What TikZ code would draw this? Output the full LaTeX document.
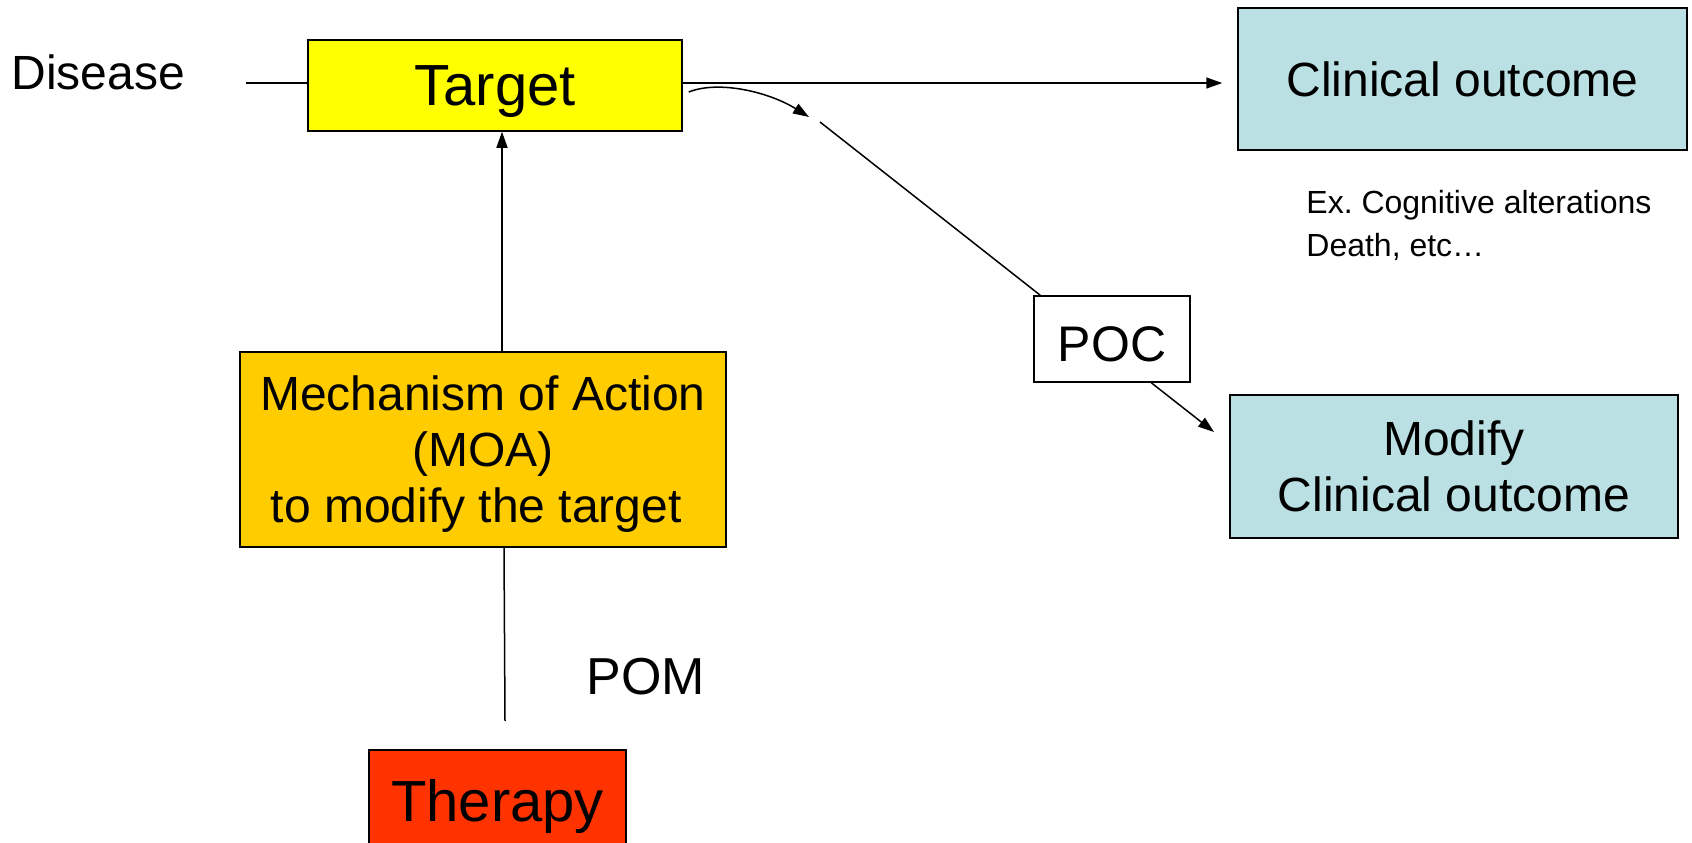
\documentclass[tikz,border=0pt]{standalone}
\usepackage{fontspec}
\setmainfont{Liberation Sans}
\usetikzlibrary{arrows.meta,calc}
\definecolor{tgtyellow}{HTML}{FFFF00}
\definecolor{outblue}{HTML}{BAE0E3}
\definecolor{moaorange}{HTML}{FFCC00}
\definecolor{therred}{HTML}{FF3300}
\tikzset{
  box/.style={draw=black, line width=0.75pt, inner sep=0pt, align=center, anchor=center},
  conn/.style={line width=0.75pt, draw=black},
  arr/.style={conn, -{Triangle[length=8pt,width=5.5pt]}},
  big/.style={font=\fontsize{24}{28}\selectfont},
}
\begin{document}
\frenchspacing
\begin{tikzpicture}[x=0.5pt,y=-0.5pt]
\useasboundingbox (0,0) rectangle (1692,842);

% nodes
\node[box, fill=tgtyellow, minimum width=187pt, minimum height=45.5pt, text depth=0pt, font=\fontsize{29}{32}\selectfont] (target) at (495,85.5) {Target};
\node[box, fill=outblue, minimum width=224.5pt, minimum height=71pt, big] (clin) at (1462.5,79) {Clinical outcome};
\node[box, fill=white, minimum width=78pt, minimum height=43pt, font=\fontsize{25}{28}\selectfont] (poc) at (1112,339) {\raisebox{0pt}[0pt][0pt]{\raisebox{-2.5pt}{POC}}\vphantom{P}};
\node[box, fill=outblue, minimum width=224pt, minimum height=71.5pt, big] (modify) at (1454,466.5) {Modify\\Clinical outcome};
\node[box, fill=moaorange, minimum width=243pt, minimum height=97.5pt, text depth=0pt, big] (moa) at (483,449.5) {Mechanism of Action\\(MOA)\\to modify the target\hspace*{0.28em}};
\node[box, fill=therred, minimum width=128.5pt, minimum height=50pt, text depth=0pt, font=\fontsize{29}{32}\selectfont] (therapy) at (497.5,800) {Therapy};

% free texts
\node[inner sep=0pt, anchor=base west, big] (disease) at (11,89) {Disease};
\node[inner sep=0pt, anchor=base west, font=\fontsize{26}{28}\selectfont] (pom) at (586,694) {POM};
\node[inner sep=0pt, anchor=north west, align=left, font=\fontsize{16}{21.5}\selectfont] (ex) at (1306,190) {Ex. Cognitive alterations\\Death, etc…};

% coordinates
\coordinate (dstart) at (246,83);
\coordinate (curveend) at (809,117);
\coordinate (linestart) at (820,122);
\coordinate (modtip) at (1214,432);
\coordinate (pomend) at (505,721);

% connectors
\draw[conn] (dstart) -- (dstart -| target.west);
\draw[arr] (target.east |- dstart) -- ($(clin.west |- dstart)+(-15,0)$);
\draw[arr] ($(target.east)+(6,6.5)$) .. controls +(30,-12) and +(-40,-25) .. (curveend);
\draw[conn] (linestart) -- ($(poc.north west)+(7,0)$);
\draw[arr] ($(poc.south west)+(118,0)$) -- (modtip);
\draw[arr] ($(moa.north)+(19,0)$) -- ($(target.south)+(7,0)$);
\draw[conn] ($(moa.south)+(21,0)$) -- (pomend);
\end{tikzpicture}
\end{document}
